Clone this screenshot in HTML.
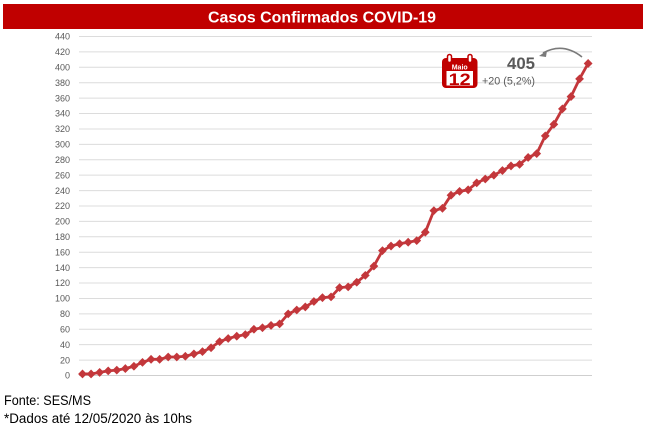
<!DOCTYPE html>
<html><head><meta charset="utf-8"><style>
html,body{margin:0;padding:0;background:#fff;}
svg{display:block;}
</style></head><body>
<svg width="650" height="431" viewBox="0 0 650 431" xmlns="http://www.w3.org/2000/svg" font-family="'Liberation Sans', sans-serif">
<rect x="0" y="0" width="650" height="431" fill="#fff"/>
<rect x="3" y="4" width="640" height="25" fill="#c00000"/>
<text x="322" y="22.5" fill="#fff" font-weight="bold" font-size="16" text-anchor="middle" textLength="228" lengthAdjust="spacingAndGlyphs">Casos Confirmados COVID-19</text>
<g stroke="#dcdcdc" stroke-width="1">
<line x1="79" x2="592" y1="375.5" y2="375.5" stroke="#cfcfcf"/>
<line x1="79" x2="592" y1="360.09" y2="360.09"/>
<line x1="79" x2="592" y1="344.68" y2="344.68"/>
<line x1="79" x2="592" y1="329.27" y2="329.27"/>
<line x1="79" x2="592" y1="313.86" y2="313.86"/>
<line x1="79" x2="592" y1="298.45" y2="298.45"/>
<line x1="79" x2="592" y1="283.04" y2="283.04"/>
<line x1="79" x2="592" y1="267.63" y2="267.63"/>
<line x1="79" x2="592" y1="252.22" y2="252.22"/>
<line x1="79" x2="592" y1="236.81" y2="236.81"/>
<line x1="79" x2="592" y1="221.4" y2="221.4"/>
<line x1="79" x2="592" y1="205.99" y2="205.99"/>
<line x1="79" x2="592" y1="190.58" y2="190.58"/>
<line x1="79" x2="592" y1="175.17" y2="175.17"/>
<line x1="79" x2="592" y1="159.76" y2="159.76"/>
<line x1="79" x2="592" y1="144.35" y2="144.35"/>
<line x1="79" x2="592" y1="128.94" y2="128.94"/>
<line x1="79" x2="592" y1="113.53" y2="113.53"/>
<line x1="79" x2="592" y1="98.12" y2="98.12"/>
<line x1="79" x2="592" y1="82.71" y2="82.71"/>
<line x1="79" x2="592" y1="67.3" y2="67.3"/>
<line x1="79" x2="592" y1="51.89" y2="51.89"/>
<line x1="79" x2="592" y1="36.48" y2="36.48"/>
</g>
<g fill="#595959" font-size="9" text-anchor="end">
<text x="70" y="378.7">0</text>
<text x="70" y="363.3">20</text>
<text x="70" y="347.9">40</text>
<text x="70" y="332.5">60</text>
<text x="70" y="317.1">80</text>
<text x="70" y="301.7">100</text>
<text x="70" y="286.2">120</text>
<text x="70" y="270.8">140</text>
<text x="70" y="255.4">160</text>
<text x="70" y="240.0">180</text>
<text x="70" y="224.6">200</text>
<text x="70" y="209.2">220</text>
<text x="70" y="193.8">240</text>
<text x="70" y="178.4">260</text>
<text x="70" y="163.0">280</text>
<text x="70" y="147.6">300</text>
<text x="70" y="132.1">320</text>
<text x="70" y="116.7">340</text>
<text x="70" y="101.3">360</text>
<text x="70" y="85.9">380</text>
<text x="70" y="70.5">400</text>
<text x="70" y="55.1">420</text>
<text x="70" y="39.7">440</text>
</g>
<defs>
<marker id="d" markerUnits="userSpaceOnUse" markerWidth="10" markerHeight="10" refX="5" refY="5" viewBox="0 0 10 10">
<path d="M5 0.6 L9.4 5 L5 9.4 L0.6 5 Z" fill="#c3373b"/>
</marker>
</defs>
<polyline fill="none" stroke="#c3373b" stroke-width="2.8" stroke-linejoin="round" marker-start="url(#d)" marker-mid="url(#d)" marker-end="url(#d)" points="82.5,373.96 91.07,373.96 99.64,372.42 108.21,370.88 116.78,370.11 125.35,368.57 133.92,366.25 142.49,362.4 151.06,359.32 159.63,359.32 168.2,357.01 176.77,357.01 185.34,356.24 193.91,353.93 202.48,351.61 211.05,347.76 219.62,341.6 228.19,338.52 236.76,336.2 245.33,334.66 253.9,329.27 262.47,327.73 271.04,325.42 279.61,323.88 288.18,313.86 296.75,310.01 305.32,306.93 313.89,301.53 322.46,297.68 331.03,296.91 339.6,287.66 348.17,286.89 356.74,282.27 365.31,275.34 373.88,266.09 382.45,250.68 391.02,246.06 399.59,243.74 408.16,242.2 416.73,240.66 425.3,232.19 433.87,210.61 442.44,208.3 451.01,195.2 459.58,191.35 468.15,189.81 476.72,182.88 485.29,179.02 493.86,175.17 502.43,170.55 511.0,165.92 519.57,164.38 528.14,157.45 536.71,153.6 545.28,135.87 553.85,124.33 562.42,108.91 570.99,96.58 579.56,78.86 588.13,63.45"/>
<!-- calendar icon -->
<g>
<rect x="442" y="58" width="35.5" height="30" rx="4" fill="#c00000"/>
<rect x="446.5" y="71" width="26.5" height="14.5" fill="#fff"/>
<rect x="447.5" y="54.5" width="4" height="8" rx="2" fill="#fff" stroke="#c00000" stroke-width="1.5"/>
<rect x="468" y="54.5" width="4" height="8" rx="2" fill="#fff" stroke="#c00000" stroke-width="1.5"/>
<text x="459.7" y="69.5" fill="#fff" font-size="7" text-anchor="middle" font-weight="bold">Maio</text>
<text x="459.7" y="85" fill="#c00000" font-size="17" text-anchor="middle" font-weight="bold" textLength="22" lengthAdjust="spacingAndGlyphs">12</text>
</g>
<text x="507" y="69" fill="#595959" font-size="17" font-weight="bold" textLength="28" lengthAdjust="spacingAndGlyphs">405</text>
<text x="482" y="84.5" fill="#595959" font-size="11" textLength="53" lengthAdjust="spacingAndGlyphs">+20 (5,2%)</text>
<path d="M582 57 Q563 42 543 53" fill="none" stroke="#7a7a7a" stroke-width="1.6"/>
<path d="M539 56 L547 50.5 L546 57 Z" fill="#7a7a7a"/>
<text x="4" y="405" fill="#000" font-size="13.5" textLength="87" lengthAdjust="spacingAndGlyphs">Fonte: SES/MS</text>
<text x="4" y="423" fill="#000" font-size="13.5" textLength="188" lengthAdjust="spacingAndGlyphs">*Dados até 12/05/2020 às 10hs</text>
</svg>
</body></html>
